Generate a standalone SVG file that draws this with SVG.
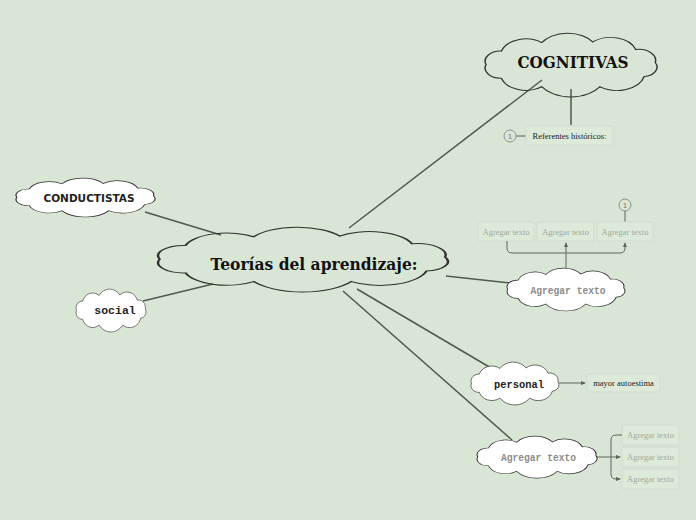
<svg xmlns="http://www.w3.org/2000/svg" width="696" height="520" viewBox="0 0 696 520">
<defs>
<path id="cloud" d="M14,50 A15.5,15.5 0 0 1 29.6,29.3 A26,26 0 0 1 70.6,16.2 A31,31 0 0 1 122.3,15.2 A27,27 0 0 1 165.9,26.9 A17,17 0 0 1 185.7,46.9 A14.3,14.3 0 0 1 174.5,68 A28.7,28.7 0 0 1 129.4,83.8 A35.3,35.3 0 0 1 70.6,83.8 A26,26 0 0 1 29.6,70.7 A15.5,15.5 0 0 1 14,50 Z"/>
<marker id="arr" viewBox="0 0 6 6" refX="5" refY="3" markerWidth="5" markerHeight="5" orient="auto"><path d="M0,0.5 L6,3 L0,5.5 Z" fill="#5a665a"/></marker>
</defs>
<style>
.cl{stroke:#333;stroke-width:1.5;vector-effect:non-scaling-stroke}
.w{fill:#fff}
.t{fill:none}
.con{stroke:#4d5a4d;stroke-width:1.5;fill:none}
.sub{stroke:#5a665a;stroke-width:1;fill:none}
.box{fill:#dde9d9;stroke:#d0ddcc;stroke-width:1}
.bt{font-family:"Liberation Serif",serif;font-size:8.5px;fill:#a0aaa0;text-anchor:middle}
.btk{font-family:"Liberation Serif",serif;font-size:8.5px;fill:#222;text-anchor:middle}
.num{fill:none;stroke:#8a948a;stroke-width:1}
.nt{font-family:"DejaVu Sans",sans-serif;font-size:7px;fill:#777;text-anchor:middle}
.mono{font-family:"Liberation Mono",monospace;font-weight:bold;text-anchor:middle}
</style>
<rect width="696" height="520" fill="#dae6d5"/>
<g id="connectors">
<line class="con" x1="349" y1="228" x2="542" y2="80"/>
<line class="con" x1="221" y1="235" x2="145" y2="212"/>
<line class="con" x1="213" y1="284" x2="143" y2="301"/>
<line class="con" x1="446" y1="276" x2="510" y2="283"/>
<line class="con" x1="357" y1="289" x2="491" y2="368"/>
<line class="con" x1="343" y1="291" x2="512" y2="440"/>
<line class="con" x1="571" y1="89" x2="571" y2="125"/>
<line class="sub" x1="516" y1="136" x2="526" y2="136"/>
<line class="sub" x1="566" y1="269" x2="566" y2="243" marker-end="url(#arr)"/>
<path class="sub" d="M507,243 V248 Q507,253 512,253 H620 Q625,253 625,248 V243" marker-start="url(#arr)" marker-end="url(#arr)"/>
<line class="sub" x1="625" y1="211" x2="625" y2="222"/>
<line class="sub" x1="559" y1="383" x2="585" y2="383" marker-end="url(#arr)"/>
<line class="sub" x1="596" y1="457" x2="620" y2="457" marker-end="url(#arr)"/>
<path class="sub" d="M620,435 H616 Q611,435 611,440 V474 Q611,479 616,479 H620" marker-start="url(#arr)" marker-end="url(#arr)"/>
</g>
<g id="central">
<use href="#cloud" class="cl t" transform="translate(136.4,226) scale(1.662,0.663)"/>
<text x="314" y="270" font-family="'DejaVu Serif',serif" font-weight="bold" font-size="17.5" text-anchor="middle" textLength="207" lengthAdjust="spacingAndGlyphs" fill="#111">Teorías del aprendizaje:</text>
</g>
<g id="cognitivas">
<use href="#cloud" class="cl t" transform="translate(472.2,32) scale(0.986,0.653)"/>
<text x="573" y="68" font-family="'DejaVu Serif',serif" font-weight="bold" font-size="16" text-anchor="middle" textLength="111" lengthAdjust="spacingAndGlyphs" fill="#111">COGNITIVAS</text>
</g>
<g id="referentes">
<circle class="num" cx="510" cy="136" r="6"/>
<text class="nt" x="510" y="138.5">1</text>
<rect class="box" x="526" y="126" width="87" height="19" rx="2"/>
<text class="btk" x="569.5" y="139">Referentes históricos:</text>
</g>
<g id="conductistas">
<use href="#cloud" class="cl w" transform="translate(5.6,177.4) scale(0.797,0.398)"/>
<text x="89" y="202" font-family="'DejaVu Sans',sans-serif" font-weight="bold" font-size="10" text-anchor="middle" textLength="91" lengthAdjust="spacingAndGlyphs" fill="#222">CONDUCTISTAS</text>
</g>
<g id="social">
<use href="#cloud" class="cl w" transform="translate(70.8,288.3) scale(0.401,0.439)"/>
<text class="mono" x="115" y="314" font-size="11.5" fill="#222">social</text>
</g>
<g id="agregar1">
<use href="#cloud" class="cl w" transform="translate(498.2,267.3) scale(0.676,0.439)"/>
<text class="mono" x="568" y="294" font-size="11" textLength="75" lengthAdjust="spacingAndGlyphs" fill="#8c8c8c">Agregar texto</text>
</g>
<g id="agregar1-children">
<rect class="box" x="478" y="222" width="56" height="19" rx="2"/>
<text class="bt" x="506" y="234.5">Agregar texto</text>
<rect class="box" x="537" y="222" width="57" height="19" rx="2"/>
<text class="bt" x="565.5" y="234.5">Agregar texto</text>
<rect class="box" x="597" y="222" width="56" height="19" rx="2"/>
<text class="bt" x="625" y="234.5">Agregar texto</text>
<circle class="num" cx="625" cy="205" r="6"/>
<text class="nt" x="625" y="207.5">1</text>
</g>
<g id="personal">
<use href="#cloud" class="cl w" transform="translate(464.4,361.3) scale(0.504,0.439)"/>
<text class="mono" x="519" y="388" font-size="11.5" textLength="50" lengthAdjust="spacingAndGlyphs" fill="#222">personal</text>
</g>
<g id="mayor">
<rect class="box" x="587" y="374" width="73" height="18" rx="2"/>
<text class="btk" x="623.5" y="386">mayor autoestima</text>
</g>
<g id="agregar2">
<use href="#cloud" class="cl w" transform="translate(468.1,435.4) scale(0.688,0.429)"/>
<text class="mono" x="538.5" y="461" font-size="11" textLength="75" lengthAdjust="spacingAndGlyphs" fill="#8c8c8c">Agregar texto</text>
</g>
<g id="agregar2-children">
<rect class="box" x="622" y="425" width="57" height="20" rx="2"/>
<text class="bt" x="650.5" y="438">Agregar texto</text>
<rect class="box" x="622" y="447" width="57" height="20" rx="2"/>
<text class="bt" x="650.5" y="460">Agregar texto</text>
<rect class="box" x="622" y="469" width="57" height="20" rx="2"/>
<text class="bt" x="650.5" y="482">Agregar texto</text>
</g>
</svg>
